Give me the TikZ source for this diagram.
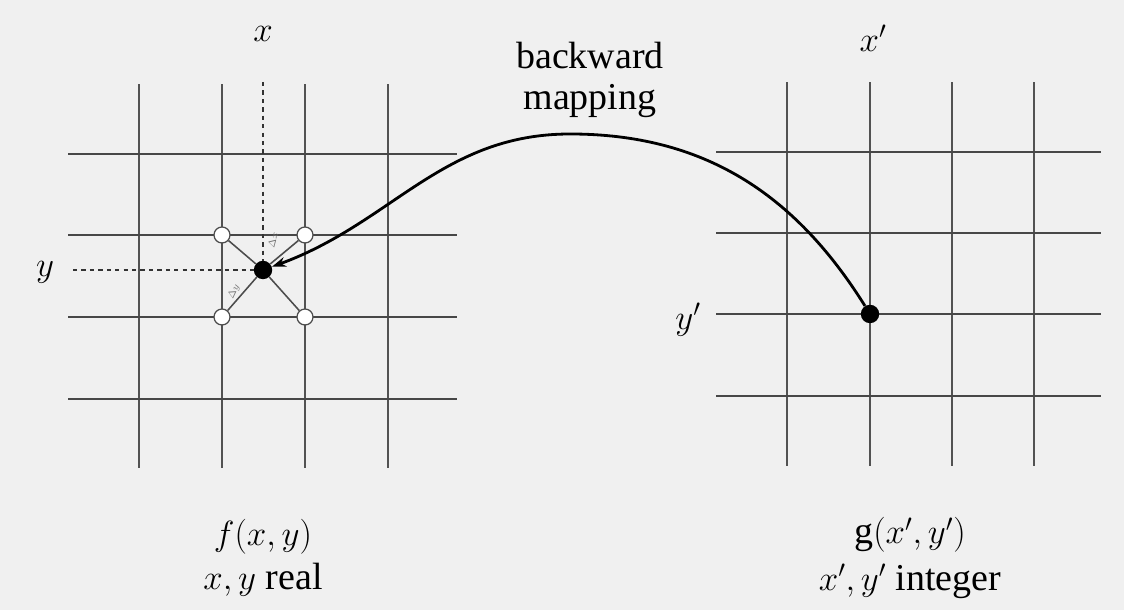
\documentclass[tikz,border=0pt]{standalone}
\usepackage{fontspec}
\setmainfont{Liberation Serif}
\usepackage{tikz}
\usetikzlibrary{arrows.meta, positioning}

\begin{document}
\begin{tikzpicture}[
        x=0.025cm, y=0.025cm,
        hline/.style={line width=1.7pt, black!72},
        vline/.style={line width=1.1pt, black!68},
        guide/.style={dashed, line width=0.8pt, black!80},
        spoke/.style={line width=1.1pt, black!70},
        sample/.style={circle, draw=black!70, line width=0.9pt, fill=white, minimum size=0.4cm, inner sep=0pt},
        dot/.style={circle, fill=black, minimum size=0.46cm, inner sep=0pt},
        lbl/.style={font=\fontsize{27}{31}\selectfont, align=center, inner sep=0pt},
        tiny/.style={font=\fontsize{7}{8}\selectfont, black!55, inner sep=0pt},
        maparrow/.style={-{Stealth[length=10pt, width=7pt]}, line width=2pt, black}
    ]
        \fill[black!6] (0,0) rectangle (1124,610);
        \useasboundingbox (0,0) rectangle (1124,610);

        % left grid (real coordinates)
        \draw[vline] (139,142) -- (139,526) (222,142) -- (222,526) (305,142) -- (305,526) (388,142) -- (388,526);
        \draw[hline] (68,456) -- (457,456) (68,375) -- (457,375) (68,293) -- (457,293) (68,211) -- (457,211);

        % right grid (integer coordinates)
        \draw[vline] (787,144) -- (787,528) (870,144) -- (870,528) (952,144) -- (952,528) (1034,144) -- (1034,528);
        \draw[hline] (716,458) -- (1101,458) (716,377) -- (1101,377) (716,296) -- (1101,296) (716,214) -- (1101,214);

        \node[dot] (fdot) at (263,340) {};
        \node[dot] (gdot) at (870,296) {};

        \node[sample] (nw) at (222,375) {};
        \node[sample] (ne) at (305,375) {};
        \node[sample] (sw) at (222,293) {};
        \node[sample] (se) at (305,293) {};
        \draw[spoke] (nw) -- (fdot);
        \draw[spoke] (ne) -- (fdot);
        \draw[spoke] (sw) -- (fdot);
        \draw[spoke] (se) -- (fdot);

        \node[tiny, rotate=75] (dx) at (273,370) {$\Delta x$};
        \node[tiny, rotate=65] (dy) at (234,318) {$\Delta y$};

        \node[lbl] (xlab) at (263,576) {$x$};
        \node[lbl] (ylab) at (45,338) {$y$};
        \node[lbl] (xplab) at (873,572) {$x'$};
        \node[lbl] (yplab) at (688,290) {$y'$};

        \coordinate (xtop) at (263,528);
        \coordinate (yleft) at (73,340);
        \draw[guide] (xtop) -- (fdot);
        \draw[guide] (yleft) -- (fdot);

        \node[lbl] (map) at (590,530) {backward\\[-2pt]mapping};
        \coordinate (peak) at (570,476);
        \draw[maparrow] (gdot) to[out=122, in=0] (peak) to[out=180, in=20] (fdot);

        \node[lbl] (fcap) at (263,52) {$f(x, y)$\\[0pt]$x, y$ real};
        \node[lbl] (gcap) at (910,52) {$\mathrm{g}(x', y')$\\[2pt]$x', y'$ integer};
    \end{tikzpicture}
\end{document}
